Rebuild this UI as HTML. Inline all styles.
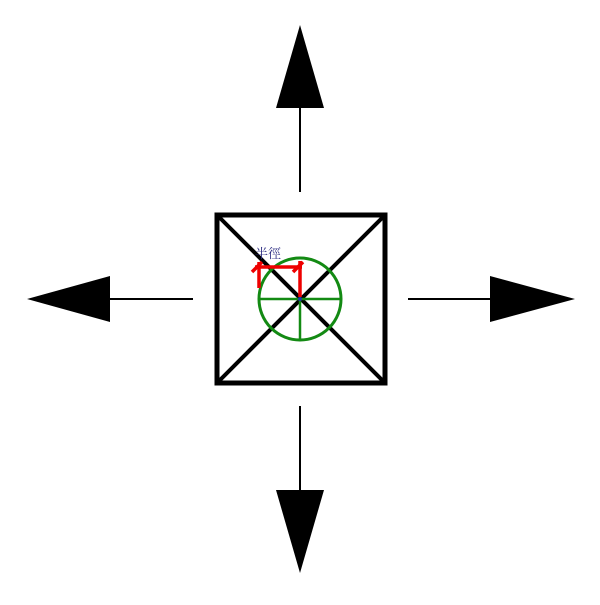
<!DOCTYPE html>
<html><head><style>body{margin:0;background:#fff}</style></head><body>
<svg width="600" height="600" xmlns="http://www.w3.org/2000/svg">
<g stroke="#000" stroke-width="2">
<line x1="300" y1="108" x2="300" y2="192"/>
<line x1="300" y1="406" x2="300" y2="490"/>
<line x1="110" y1="299" x2="193" y2="299"/>
<line x1="408" y1="299" x2="490" y2="299"/>
</g>
<polygon points="300,25 276,108 324,108" fill="#000"/>
<polygon points="300,573 276,490 324,490" fill="#000"/>
<polygon points="27,299 110,276 110,322" fill="#000"/>
<polygon points="575,299 490,276 490,322" fill="#000"/>
<rect x="217" y="215" width="168" height="168" fill="none" stroke="#000" stroke-width="5"/>
<line x1="219" y1="217" x2="383" y2="381" stroke="#000" stroke-width="4"/>
<line x1="383" y1="217" x2="219" y2="381" stroke="#000" stroke-width="4"/>
<circle cx="300" cy="299" r="41" fill="none" stroke="#138a13" stroke-width="3"/>
<line x1="259" y1="299" x2="341" y2="299" stroke="#138a13" stroke-width="2.5"/>
<line x1="300" y1="299" x2="300" y2="340" stroke="#138a13" stroke-width="2.5"/>
<g stroke="#e00" stroke-width="3.5" fill="none">
<line x1="259" y1="262" x2="259" y2="288"/>
<line x1="255" y1="267" x2="302" y2="267"/>
<line x1="300" y1="261" x2="300" y2="297"/>
<line x1="252" y1="272" x2="262" y2="262"/>
<line x1="293" y1="272" x2="303" y2="262"/>
</g>
<circle cx="300" cy="299" r="2" fill="#1a3aa0"/>
<text x="255" y="258" font-size="13" fill="#2a2a80" font-family="'Liberation Serif','Noto Serif CJK SC',serif">半徑</text>
</svg>
</body></html>
